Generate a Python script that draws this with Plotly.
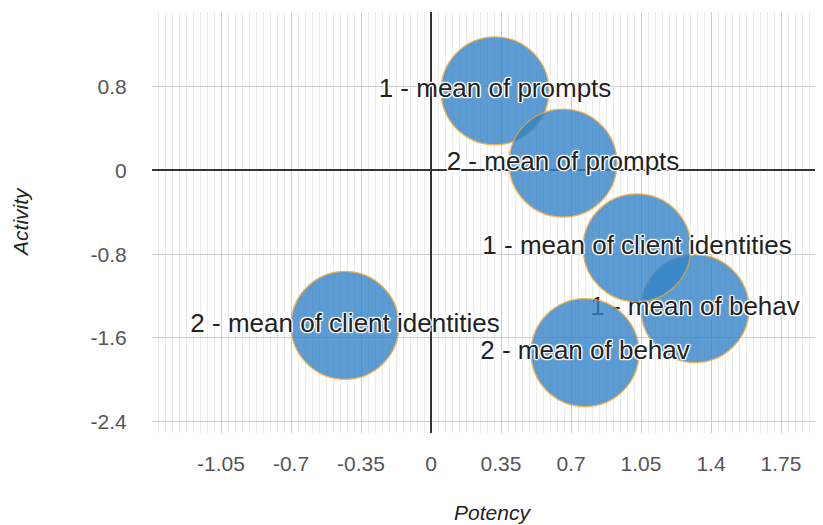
import plotly.graph_objects as go

labels = [
    "1 - mean of prompts",
    "2 - mean of prompts",
    "1 - mean of behav",
    "1 - mean of client identities",
    "2 - mean of client identities",
    "2 - mean of behav",
]
potency = [0.32, 0.66, 1.32, 1.03, -0.43, 0.77]
activity = [0.76, 0.07, -1.32, -0.74, -1.48, -1.74]

x_ticks = [-1.05, -0.7, -0.35, 0, 0.35, 0.7, 1.05, 1.4, 1.75]
x_tick_text = ["-1.05", "-0.7", "-0.35", "0", "0.35", "0.7", "1.05", "1.4", "1.75"]
y_ticks = [-2.4, -1.6, -0.8, 0, 0.8]
y_tick_text = ["-2.4", "-1.6", "-0.8", "0", "0.8"]

font = "Arial, Liberation Sans, sans-serif"
# white outline around the bubble labels
halo = ", ".join("white %dpx %dpx 1px" % (dx, dy)
                 for dx, dy in [(1, 0), (-1, 0), (0, 1), (0, -1),
                                (1, 1), (-1, -1), (1, -1), (-1, 1)])

fig = go.Figure()
# one trace per bubble so later bubbles cover earlier labels
for name, x, y in zip(labels, potency, activity):
    fig.add_trace(go.Scatter(
        x=[x], y=[y],
        mode="markers+text",
        text=[name],
        textposition="middle center",
        textfont=dict(family=font, size=26, color="#222222", shadow=halo),
        marker=dict(size=108, color="rgb(52,132,200)", opacity=0.8,
                    line=dict(color="rgb(240,160,40)", width=1.3)),
        showlegend=False,
        hoverinfo="text",
    ))

# page body has an 8px margin, so the figure is 8px smaller than the window
fig.update_layout(
    width=815, height=517,
    margin=dict(l=144, r=0, t=4, b=92),
    plot_bgcolor="white",
    paper_bgcolor="white",
    font=dict(family=font, size=21, color="#555555"),
    annotations=[
        dict(text="<i>Potency</i>", x=0.508, y=-0.188, xref="paper", yref="paper",
             xanchor="center", yanchor="middle",
             showarrow=False, font=dict(size=21, color="#222222")),
        dict(text="<i>Activity</i>", x=-0.197, y=0.501, xref="paper", yref="paper",
             xanchor="center", yanchor="middle",
             showarrow=False, textangle=-90, font=dict(size=21, color="#222222")),
    ],
)
fig.update_xaxes(
    range=[-1.395, 1.96], automargin=False,
    tickvals=x_ticks, ticktext=x_tick_text,
    showgrid=True, gridcolor="#cccccc", gridwidth=1,
    minor=dict(dtick=0.035, tick0=0, showgrid=True, gridcolor="#ebebeb", gridwidth=1),
    zeroline=True, zerolinecolor="#333333", zerolinewidth=1.5,
    showline=False,
    ticks="outside", ticklen=12, tickcolor="rgba(0,0,0,0)",
)
fig.update_yaxes(
    range=[-2.508, 1.513], automargin=False,
    tickvals=y_ticks, ticktext=y_tick_text,
    showgrid=True, gridcolor="#cccccc", gridwidth=1,
    zeroline=True, zerolinecolor="#333333", zerolinewidth=1.5,
    showline=False,
    ticks="outside", ticklen=20, tickcolor="rgba(0,0,0,0)",
)

fig.write_html("out.html")
